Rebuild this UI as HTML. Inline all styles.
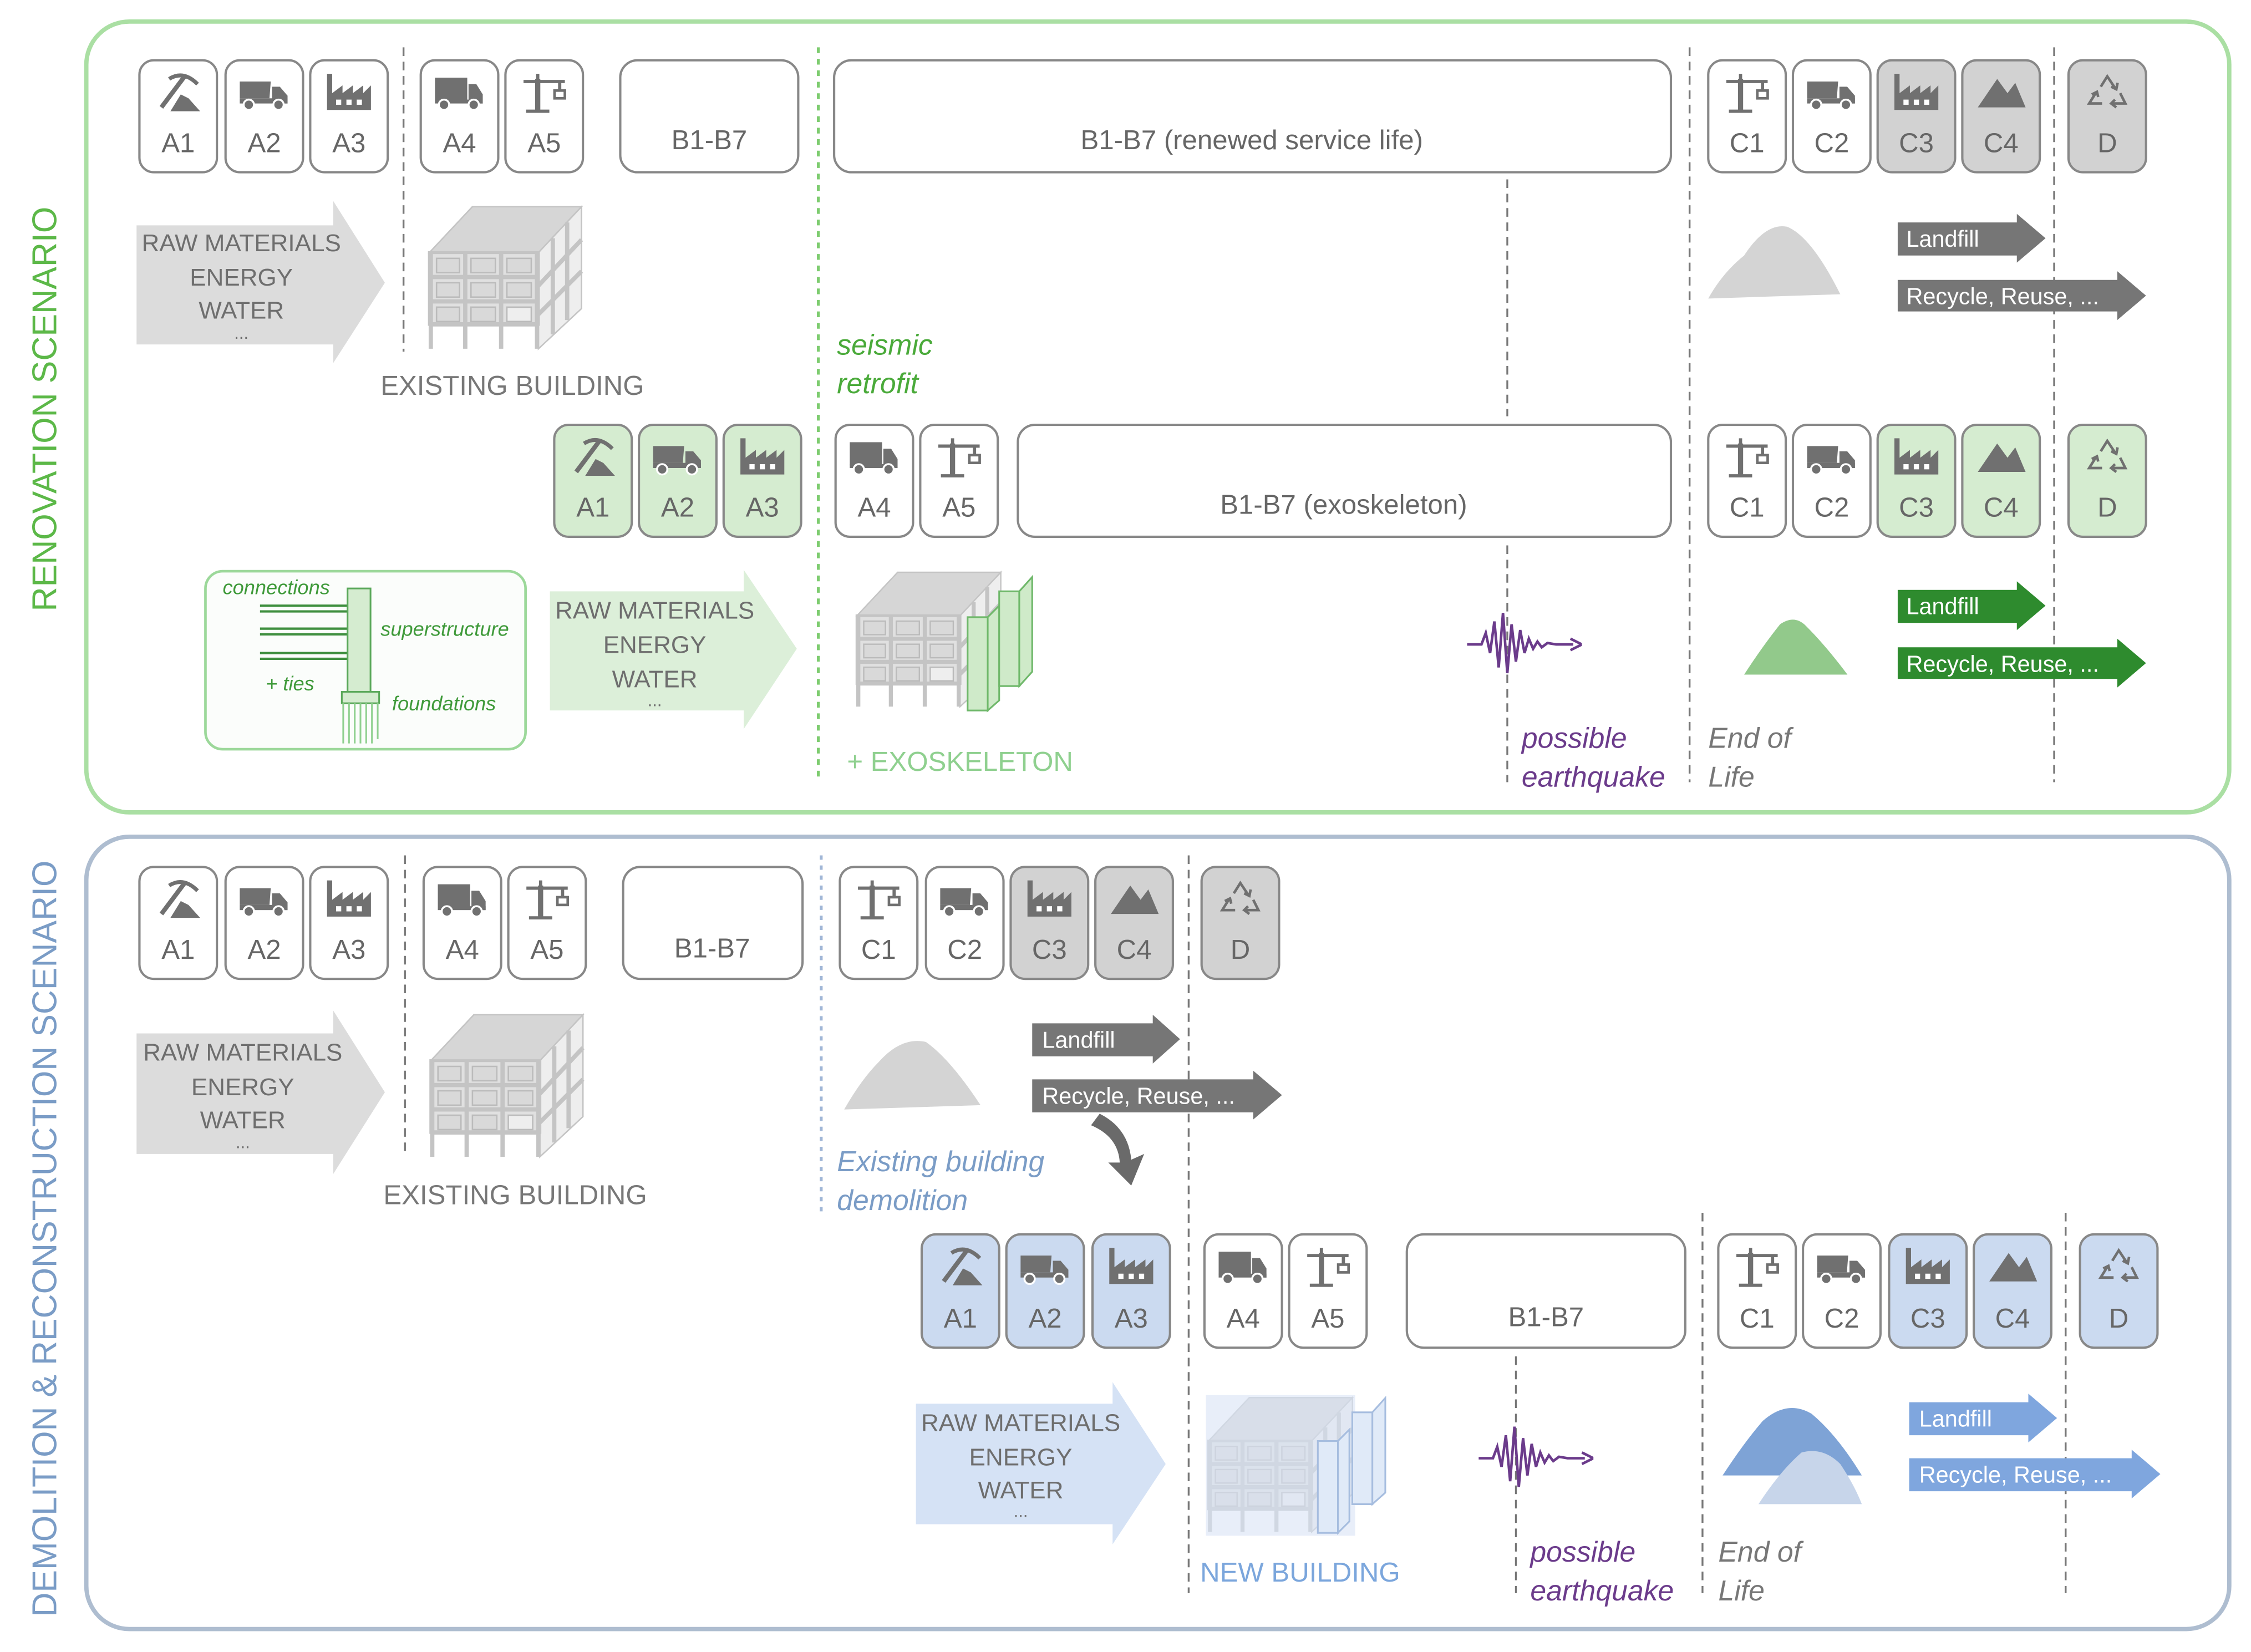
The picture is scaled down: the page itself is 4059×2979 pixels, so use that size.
<!DOCTYPE html>
<html><head><meta charset="utf-8"><style>
html,body{margin:0;padding:0;background:#fff;}
svg{display:block;}
text{font-family:"Liberation Sans",sans-serif;}
</style></head><body>
<svg width="4059" height="2979" viewBox="0 0 1568 1151" xmlns="http://www.w3.org/2000/svg">
<defs>
<symbol id="pick" viewBox="0 0 40 32"><path d="M7 28 L25 4" stroke="#707070" stroke-width="3.5" fill="none"/><path d="M13 6 Q24 -1 35 10" stroke="#707070" stroke-width="3" fill="none"/><path d="M14 31 L22 18 L28 21 L37 31Z" fill="#707070"/></symbol>
<symbol id="dump" viewBox="0 0 40 32"><path d="M1 8 H25 L24 21 H1Z" fill="#707070"/><path d="M26 12 H32 L38 19 V25 H26Z" fill="#707070"/><rect x="1" y="21" width="37" height="4" fill="#707070"/><circle cx="8" cy="26" r="4" fill="#707070" stroke="#fff" stroke-width="1.5"/><circle cx="31" cy="26" r="4" fill="#707070" stroke="#fff" stroke-width="1.5"/></symbol>
<symbol id="fact" viewBox="0 0 40 32"><path d="M3 30 V2 H7 V17 L15 11 V17 L23 11 V17 L31 11 V17 L37 11 V30Z" fill="#707070"/><rect x="10" y="22" width="4" height="4" fill="#fff"/><rect x="18" y="22" width="4" height="4" fill="#fff"/><rect x="26" y="22" width="4" height="4" fill="#fff"/></symbol>
<symbol id="truck" viewBox="0 0 40 32"><rect x="1" y="5" width="25" height="18" fill="#707070"/><path d="M27 10 H33 L38 18 V25 H27Z" fill="#707070"/><rect x="1" y="22" width="37" height="3" fill="#707070"/><circle cx="8" cy="26" r="4" fill="#707070" stroke="#fff" stroke-width="1.5"/><circle cx="31" cy="26" r="4" fill="#707070" stroke="#fff" stroke-width="1.5"/></symbol>
<symbol id="crane" viewBox="0 0 40 32"><path d="M13 6 H17 V30 H13Z" fill="#707070"/><path d="M4 8 H36 M15 2 V8 M32 8 V15 M6 31 H24" stroke="#707070" stroke-width="2.5" fill="none"/><rect x="28" y="15" width="8" height="6" fill="#fff" stroke="#707070" stroke-width="2"/></symbol>
<symbol id="mount" viewBox="0 0 40 32"><path d="M2 28 L17 6 L25 17 L31 9 L39 28Z" fill="#707070"/></symbol>
<symbol id="recy" viewBox="0 0 40 32"><g fill="none" stroke="#707070" stroke-width="2"><path d="M15 12 L20 4 L26 13 M23 12 L27 14 L28 9"/><path d="M30 17 L34 25 H24 M26 22 L23 25 L27 28"/><path d="M16 25 H6 L11 17 M8 18 L12 16 L13 20"/></g></symbol>
<symbol id="bld" viewBox="0 0 110 102"><path d="M2 33 L32 1 H108 L78 33Z" fill="#d6d6d6" stroke="#c4c4c4"/><path d="M78 33 L108 1 V72 L78 100Z" fill="#eee" stroke="#c4c4c4"/><rect x="2" y="33" width="76" height="50" fill="#e0e0e0" stroke="#c4c4c4" stroke-width="2"/><g stroke="#c4c4c4" stroke-width="3"><path d="M3 33 V100 M27 33 V100 M52 33 V100 M77 33 V100 M2 50 H78 M2 67 H78 M2 83 H78 M88 23 V90 M98 12 V80 M78 56 L108 24 M78 76 L108 46"/></g><g fill="#d9d9d9" stroke="#bbb"><rect x="7" y="37" width="16" height="10"/><rect x="31" y="37" width="17" height="10"/><rect x="56" y="37" width="17" height="10"/><rect x="7" y="54" width="16" height="10"/><rect x="31" y="54" width="17" height="10"/><rect x="56" y="54" width="17" height="10"/><rect x="7" y="71" width="16" height="10"/><rect x="31" y="71" width="17" height="10"/><rect x="56" y="71" width="17" height="10" fill="#eee"/></g></symbol>
<symbol id="quake" viewBox="0 0 80 46"><path d="M0 24 H10 L13 16 L16 30 L19 8 L22 40 L25 2 L28 44 L31 10 L34 36 L37 14 L40 30 L43 20 L46 27 L49 22 L52 26 L56 23 L62 24 H74" fill="none" stroke="#6b3b8b" stroke-width="1.8"/><path d="M72 20 L80 24 L72 28" fill="none" stroke="#6b3b8b" stroke-width="1.8"/></symbol>
</defs>

<rect x="60" y="15" width="1493" height="551" rx="30" fill="none" stroke="#aadfa3" stroke-width="3"/>
<rect x="60" y="583" width="1493" height="552" rx="30" fill="none" stroke="#aebdd0" stroke-width="3"/>
<text transform="translate(39,285) rotate(-90)" text-anchor="middle" font-size="24" fill="#5cb848" textLength="282" lengthAdjust="spacingAndGlyphs">RENOVATION SCENARIO</text>
<text transform="translate(39,863) rotate(-90)" text-anchor="middle" font-size="24" fill="#7a9cc6" textLength="527" lengthAdjust="spacingAndGlyphs">DEMOLITION &amp; RECONSTRUCTION SCENARIO</text>

<g stroke="#777" stroke-width="1.3" stroke-dasharray="6,4" fill="none">
<path d="M281 33 V245"/><path d="M1050 125 V290 M1050 380 V545"/><path d="M1177 33 V545"/><path d="M1431 33 V545"/>
<path d="M282 596 V805"/><path d="M828 596 V1110"/><path d="M1056 945 V1110"/><path d="M1186 845 V1110"/><path d="M1439 845 V1110"/>
</g>
<path d="M570 33 V545" stroke="#7dcc6f" stroke-width="2" stroke-dasharray="4,4"/>
<path d="M572 596 V845" stroke="#a0b6d6" stroke-width="2" stroke-dasharray="3,4"/>

<g font-size="19" fill="#666" text-anchor="middle" stroke-width="1.6">
<g stroke="#888"><rect x="97" y="42" width="54" height="78" rx="10" fill="#fff"/><rect x="157" y="42" width="54" height="78" rx="10" fill="#fff"/><rect x="216" y="42" width="54" height="78" rx="10" fill="#fff"/><rect x="293" y="42" width="54" height="78" rx="10" fill="#fff"/><rect x="352" y="42" width="54" height="78" rx="10" fill="#fff"/><rect x="432" y="42" width="124" height="78" rx="12" fill="#fff"/><rect x="581" y="42" width="583" height="78" rx="12" fill="#fff"/><rect x="1190" y="42" width="54" height="78" rx="10" fill="#fff"/><rect x="1249" y="42" width="54" height="78" rx="10" fill="#fff"/><rect x="1308" y="42" width="54" height="78" rx="10" fill="#d2d2d2"/><rect x="1367" y="42" width="54" height="78" rx="10" fill="#d2d2d2"/><rect x="1441" y="42" width="54" height="78" rx="10" fill="#d2d2d2"/></g>
<g stroke="none"><text x="124" y="106">A1</text><text x="184" y="106">A2</text><text x="243" y="106">A3</text><text x="320" y="106">A4</text><text x="379" y="106">A5</text><text x="494" y="104">B1-B7</text><text x="872" y="104">B1-B7 (renewed service life)</text><text x="1217" y="106">C1</text><text x="1276" y="106">C2</text><text x="1335" y="106">C3</text><text x="1394" y="106">C4</text><text x="1468" y="106">D</text></g>
<g stroke="#888"><rect x="386" y="296" width="54" height="78" rx="10" fill="#d5ecd0"/><rect x="445" y="296" width="54" height="78" rx="10" fill="#d5ecd0"/><rect x="504" y="296" width="54" height="78" rx="10" fill="#d5ecd0"/><rect x="582" y="296" width="54" height="78" rx="10" fill="#fff"/><rect x="641" y="296" width="54" height="78" rx="10" fill="#fff"/><rect x="709" y="296" width="455" height="78" rx="12" fill="#fff"/><rect x="1190" y="296" width="54" height="78" rx="10" fill="#fff"/><rect x="1249" y="296" width="54" height="78" rx="10" fill="#fff"/><rect x="1308" y="296" width="54" height="78" rx="10" fill="#d5ecd0"/><rect x="1367" y="296" width="54" height="78" rx="10" fill="#d5ecd0"/><rect x="1441" y="296" width="54" height="78" rx="10" fill="#d5ecd0"/></g>
<g stroke="none"><text x="413" y="360">A1</text><text x="472" y="360">A2</text><text x="531" y="360">A3</text><text x="609" y="360">A4</text><text x="668" y="360">A5</text><text x="936" y="358">B1-B7 (exoskeleton)</text><text x="1217" y="360">C1</text><text x="1276" y="360">C2</text><text x="1335" y="360">C3</text><text x="1394" y="360">C4</text><text x="1468" y="360">D</text></g>
<g stroke="#888"><rect x="97" y="604" width="54" height="78" rx="10" fill="#fff"/><rect x="157" y="604" width="54" height="78" rx="10" fill="#fff"/><rect x="216" y="604" width="54" height="78" rx="10" fill="#fff"/><rect x="295" y="604" width="54" height="78" rx="10" fill="#fff"/><rect x="354" y="604" width="54" height="78" rx="10" fill="#fff"/><rect x="434" y="604" width="125" height="78" rx="12" fill="#fff"/><rect x="585" y="604" width="54" height="78" rx="10" fill="#fff"/><rect x="645" y="604" width="54" height="78" rx="10" fill="#fff"/><rect x="704" y="604" width="54" height="78" rx="10" fill="#d2d2d2"/><rect x="763" y="604" width="54" height="78" rx="10" fill="#d2d2d2"/><rect x="837" y="604" width="54" height="78" rx="10" fill="#d2d2d2"/></g>
<g stroke="none"><text x="124" y="668">A1</text><text x="184" y="668">A2</text><text x="243" y="668">A3</text><text x="322" y="668">A4</text><text x="381" y="668">A5</text><text x="496" y="667">B1-B7</text><text x="612" y="668">C1</text><text x="672" y="668">C2</text><text x="731" y="668">C3</text><text x="790" y="668">C4</text><text x="864" y="668">D</text></g>
<g stroke="#888"><rect x="642" y="860" width="54" height="79" rx="10" fill="#cbdaf0"/><rect x="701" y="860" width="54" height="79" rx="10" fill="#cbdaf0"/><rect x="761" y="860" width="54" height="79" rx="10" fill="#cbdaf0"/><rect x="839" y="860" width="54" height="79" rx="10" fill="#fff"/><rect x="898" y="860" width="54" height="79" rx="10" fill="#fff"/><rect x="980" y="860" width="194" height="79" rx="12" fill="#fff"/><rect x="1197" y="860" width="54" height="79" rx="10" fill="#fff"/><rect x="1256" y="860" width="54" height="79" rx="10" fill="#fff"/><rect x="1316" y="860" width="54" height="79" rx="10" fill="#cbdaf0"/><rect x="1375" y="860" width="54" height="79" rx="10" fill="#cbdaf0"/><rect x="1449" y="860" width="54" height="79" rx="10" fill="#cbdaf0"/></g>
<g stroke="none"><text x="669" y="925">A1</text><text x="728" y="925">A2</text><text x="788" y="925">A3</text><text x="866" y="925">A4</text><text x="925" y="925">A5</text><text x="1077" y="924">B1-B7</text><text x="1224" y="925">C1</text><text x="1283" y="925">C2</text><text x="1343" y="925">C3</text><text x="1402" y="925">C4</text><text x="1476" y="925">D</text></g>
</g>

<g>
<use href="#pick" x="106" y="48" width="36" height="32"/><use href="#dump" x="166" y="48" width="36" height="32"/><use href="#fact" x="225" y="48" width="36" height="32"/><use href="#truck" x="302" y="48" width="36" height="32"/><use href="#crane" x="361" y="48" width="36" height="32"/><use href="#crane" x="1199" y="48" width="36" height="32"/><use href="#dump" x="1258" y="48" width="36" height="32"/><use href="#fact" x="1317" y="48" width="36" height="32"/><use href="#mount" x="1376" y="48" width="36" height="32"/><use href="#recy" x="1450" y="48" width="36" height="32"/>
<use href="#pick" x="395" y="302" width="36" height="32"/><use href="#dump" x="454" y="302" width="36" height="32"/><use href="#fact" x="513" y="302" width="36" height="32"/><use href="#truck" x="591" y="302" width="36" height="32"/><use href="#crane" x="650" y="302" width="36" height="32"/><use href="#crane" x="1199" y="302" width="36" height="32"/><use href="#dump" x="1258" y="302" width="36" height="32"/><use href="#fact" x="1317" y="302" width="36" height="32"/><use href="#mount" x="1376" y="302" width="36" height="32"/><use href="#recy" x="1450" y="302" width="36" height="32"/>
<use href="#pick" x="106" y="610" width="36" height="32"/><use href="#dump" x="166" y="610" width="36" height="32"/><use href="#fact" x="225" y="610" width="36" height="32"/><use href="#truck" x="304" y="610" width="36" height="32"/><use href="#crane" x="363" y="610" width="36" height="32"/><use href="#crane" x="594" y="610" width="36" height="32"/><use href="#dump" x="654" y="610" width="36" height="32"/><use href="#fact" x="713" y="610" width="36" height="32"/><use href="#mount" x="772" y="610" width="36" height="32"/><use href="#recy" x="846" y="610" width="36" height="32"/>
<use href="#pick" x="651" y="866" width="36" height="32"/><use href="#dump" x="710" y="866" width="36" height="32"/><use href="#fact" x="770" y="866" width="36" height="32"/><use href="#truck" x="848" y="866" width="36" height="32"/><use href="#crane" x="907" y="866" width="36" height="32"/><use href="#crane" x="1206" y="866" width="36" height="32"/><use href="#dump" x="1265" y="866" width="36" height="32"/><use href="#fact" x="1325" y="866" width="36" height="32"/><use href="#mount" x="1384" y="866" width="36" height="32"/><use href="#recy" x="1458" y="866" width="36" height="32"/>
</g>

<g font-size="17" fill="#6e6e6e" text-anchor="middle">
<path d="M95 157 H232 V140 L268 197 L232 253 V240 H95Z" fill="#dcdcdc"/>
<text x="168" y="175">RAW MATERIALS</text><text x="168" y="199">ENERGY</text><text x="168" y="222">WATER</text><text x="168" y="236" font-size="12">...</text>
<path d="M383 412 H518 V397 L555 452 L518 508 V495 H383Z" fill="#dcefd9"/>
<text x="456" y="431">RAW MATERIALS</text><text x="456" y="455">ENERGY</text><text x="456" y="479">WATER</text><text x="456" y="492" font-size="12">...</text>
<path d="M95 720 H232 V704 L268 761 L232 818 V804 H95Z" fill="#dcdcdc"/>
<text x="169" y="739">RAW MATERIALS</text><text x="169" y="763">ENERGY</text><text x="169" y="786">WATER</text><text x="169" y="800" font-size="12">...</text>
<path d="M638 978 H775 V963 L812 1020 L775 1076 V1062 H638Z" fill="#d5e2f5"/>
<text x="711" y="997">RAW MATERIALS</text><text x="711" y="1021">ENERGY</text><text x="711" y="1044">WATER</text><text x="711" y="1057" font-size="12">...</text>
</g>

<use href="#bld" x="297" y="143" width="110" height="102"/>
<use href="#bld" x="298" y="706" width="110" height="102"/>
<g>
<use href="#bld" x="595" y="397" width="104" height="98"/>
<g fill="#cfeac9" stroke="#6fb86a" stroke-width="1.2"><path d="M674 430 H688 V495 H674Z"/><path d="M688 430 L696 422 V488 L688 495Z"/><path d="M696 412 H710 V478 H696Z"/><path d="M710 412 L719 402 V468 L710 478Z"/></g>
</g>
<g opacity="0.9">
<rect x="840" y="970" width="130" height="100" fill="#fff"/>
<use href="#bld" x="840" y="972" width="104" height="98" style="opacity:.8"/>
<rect x="840" y="972" width="104" height="98" fill="#c7d8f1" opacity="0.45"/>
<g fill="#dde8f8" stroke="#9db6dc" stroke-width="1.2"><path d="M918 1004 H932 V1068 H918Z"/><path d="M932 1004 L940 996 V1060 L932 1068Z"/><path d="M942 984 H956 V1048 H942Z"/><path d="M956 984 L965 974 V1040 L956 1048Z"/></g>
</g>

<path d="M1190 208 Q1200 190 1215 178 Q1230 155 1245 158 Q1262 165 1282 205 Z" fill="#d4d4d4"/>
<path d="M1215 470 Q1228 450 1240 435 Q1250 428 1258 436 Q1272 450 1287 470Z" fill="#92c98b"/>
<path d="M588 773 Q600 752 612 740 Q628 722 645 726 Q662 738 683 770Z" fill="#d4d4d4"/>
<path d="M1200 1028 Q1215 1005 1228 990 Q1245 975 1262 985 Q1280 1000 1297 1028Z" fill="#7ea3d6"/>
<path d="M1225 1048 Q1240 1025 1255 1012 Q1270 1008 1282 1020 Q1292 1035 1297 1048Z" fill="#c7d5ea"/>

<g font-size="16" fill="#fff">
<path d="M1322 155 H1405 V149 L1425 166 L1405 183 V178 H1322Z" fill="#767676"/><text x="1328" y="172">Landfill</text>
<path d="M1322 195 H1475 V189 L1495 206 L1475 223 V217 H1322Z" fill="#767676"/><text x="1328" y="212">Recycle, Reuse, ...</text>
<path d="M1322 411 H1405 V405 L1425 422 L1405 439 V434 H1322Z" fill="#2e8b2e"/><text x="1328" y="428">Landfill</text>
<path d="M1322 451 H1475 V445 L1495 462 L1475 479 V473 H1322Z" fill="#2e8b2e"/><text x="1328" y="468">Recycle, Reuse, ...</text>
<path d="M719 713 H803 V707 L822 724 L803 741 V736 H719Z" fill="#767676"/><text x="726" y="730">Landfill</text>
<path d="M719 752 H873 V746 L893 763 L873 780 V775 H719Z" fill="#767676"/><text x="726" y="769">Recycle, Reuse, ...</text>
<path d="M1330 977 H1413 V971 L1433 988 L1413 1005 V1000 H1330Z" fill="#7fa6de"/><text x="1337" y="994">Landfill</text>
<path d="M1330 1016 H1485 V1010 L1505 1027 L1485 1044 V1039 H1330Z" fill="#7fa6de"/><text x="1337" y="1033">Recycle, Reuse, ...</text>
</g>
<path d="M766 776 Q786 786 788 808 L797 804 L788 826 L772 810 L780 810 Q779 792 760 784Z" fill="#6a6a6a"/>

<use href="#quake" x="1022" y="425" width="80" height="46"/>
<use href="#quake" x="1030" y="992" width="80" height="46"/>

<g font-size="19" fill="#777">
<text x="265" y="275">EXISTING BUILDING</text>
<text x="267" y="839">EXISTING BUILDING</text>
</g>
<text x="590" y="537" font-size="19" fill="#8fd08f">+ EXOSKELETON</text>
<text x="836" y="1102" font-size="19" fill="#7ba6dc">NEW BUILDING</text>
<g font-size="20" font-style="italic">
<text x="583" y="247" fill="#4aaa3a">seismic</text><text x="583" y="274" fill="#4aaa3a">retrofit</text>
<text x="1060" y="521" fill="#6b3b8b">possible</text><text x="1060" y="548" fill="#6b3b8b">earthquake</text>
<text x="1190" y="521" fill="#777">End of</text><text x="1190" y="548" fill="#777">Life</text>
<text x="583" y="816" fill="#7a9cc6">Existing building</text><text x="583" y="843" fill="#7a9cc6">demolition</text>
<text x="1066" y="1088" fill="#6b3b8b">possible</text><text x="1066" y="1115" fill="#6b3b8b">earthquake</text>
<text x="1197" y="1088" fill="#777">End of</text><text x="1197" y="1115" fill="#777">Life</text>
</g>

<rect x="143" y="398" width="223" height="124" rx="12" fill="#fbfdfb" stroke="#9cd89a" stroke-width="1.8"/>
<g stroke="#3f8f3f" stroke-width="1.6">
<path d="M181 422 H242 M181 426 H242 M181 438 H242 M181 442 H242 M181 455 H242 M181 459 H242"/>
</g>
<rect x="242" y="410" width="16" height="73" fill="#d5ecd0" stroke="#5aa85a" stroke-width="1.2"/>
<rect x="238" y="482" width="26" height="8" fill="#d5ecd0" stroke="#5aa85a" stroke-width="1.2"/>
<g stroke="#8fd08f" stroke-width="1.2"><path d="M239 490 V518 M243 490 V518 M247 490 V518 M251 490 V518 M255 490 V518 M259 490 V518 M263 490 V515"/></g>
<g font-size="14" font-style="italic" fill="#3f9a3a">
<text x="155" y="414">connections</text>
<text x="265" y="443">superstructure</text>
<text x="185" y="481">+ ties</text>
<text x="273" y="495">foundations</text>
</g>
</svg>
</body></html>
